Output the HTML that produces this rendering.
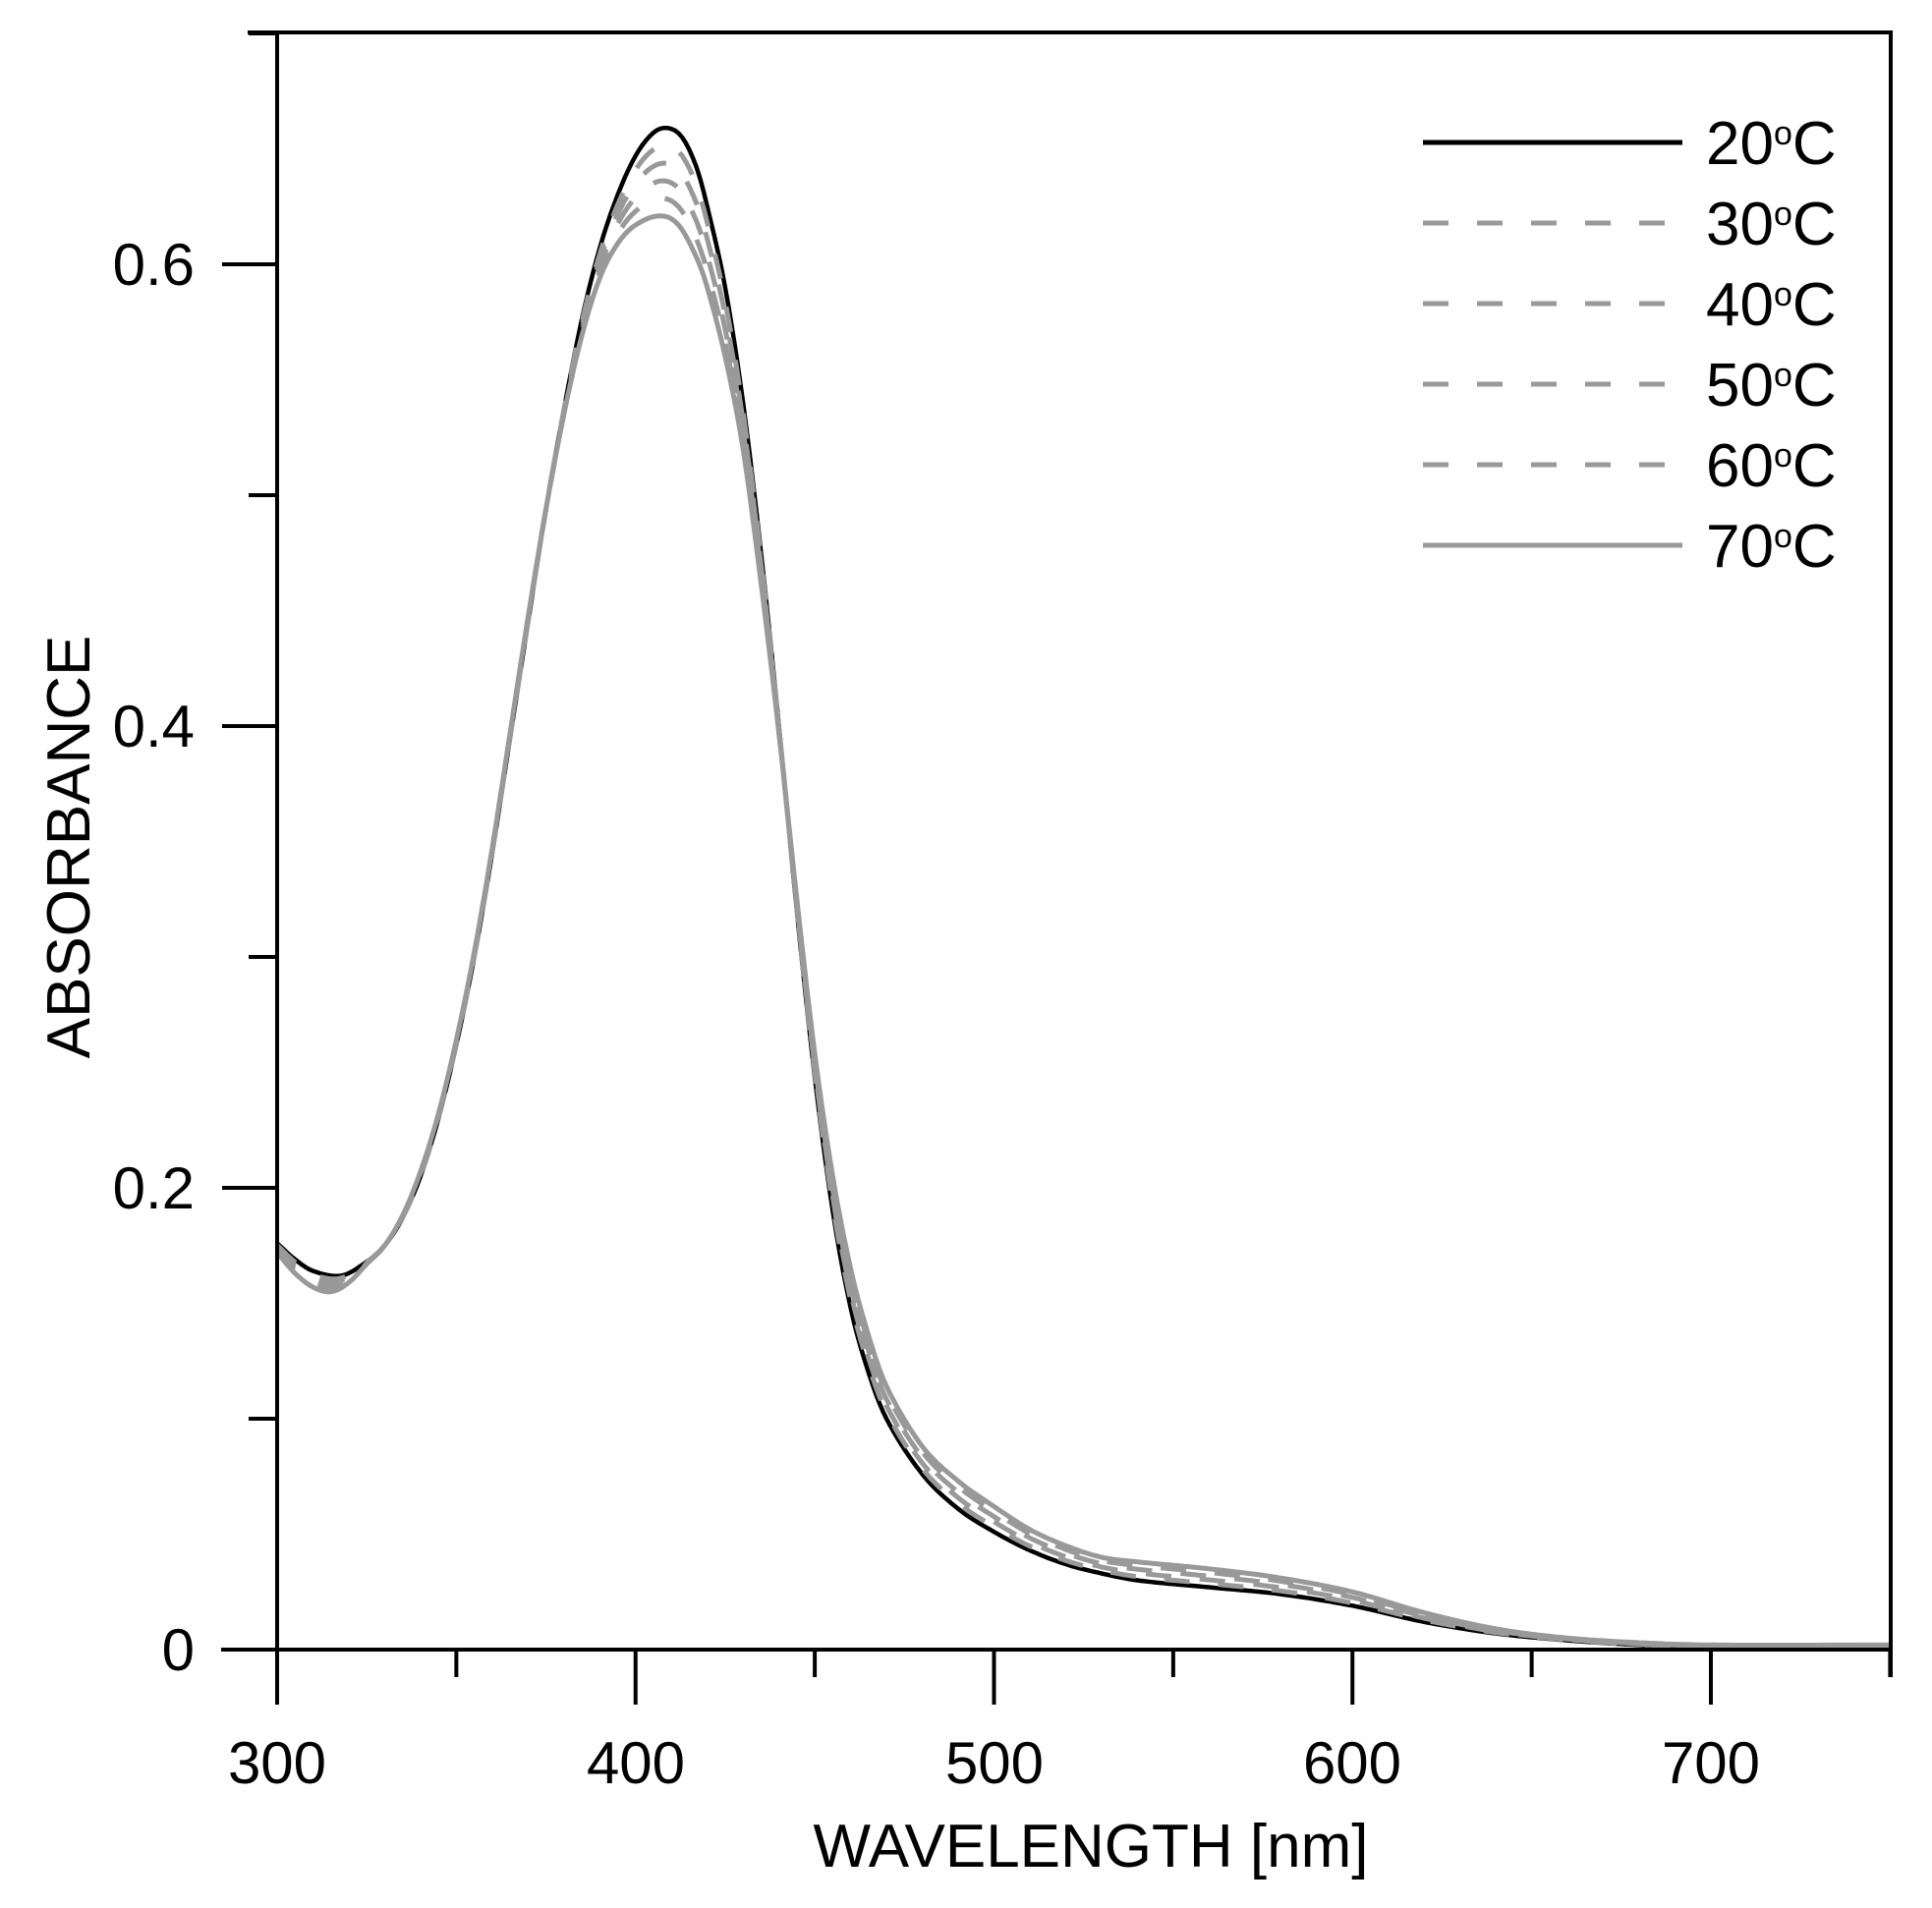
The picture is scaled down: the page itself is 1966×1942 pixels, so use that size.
<!DOCTYPE html>
<html><head><meta charset="utf-8">
<style>
html,body{margin:0;padding:0;background:#fff;}
svg{display:block;}
text{font-family:"Liberation Sans",Arial,sans-serif;fill:#000;}
</style></head>
<body>
<svg id="s" width="1966" height="1942" viewBox="0 0 1966 1942" xmlns="http://www.w3.org/2000/svg">
<rect width="1966" height="1942" fill="#fff"/>
<g id="curves" fill="none" stroke-linejoin="round" stroke-linecap="butt"></g>
<g stroke="#000" stroke-width="4" fill="none">
<line x1="252" y1="33" x2="1924" y2="33"/>
<line x1="282" y1="31" x2="282" y2="1681"/>
<line x1="1924" y1="31" x2="1924" y2="1707"/>
<line x1="225" y1="1679" x2="1926" y2="1679"/>
</g>
<g id="ticks" stroke="#000" stroke-width="4"></g>
<g font-size="60" text-anchor="end">
<text x="198" y="1700">0</text>
<text x="198" y="1230">0.2</text>
<text x="198" y="760">0.4</text>
<text x="198" y="290">0.6</text>
</g>
<g font-size="60" text-anchor="middle">
<text x="282" y="1815">300</text>
<text x="647" y="1815">400</text>
<text x="1012" y="1815">500</text>
<text x="1376" y="1815">600</text>
<text x="1741" y="1815">700</text>
</g>
<text x="1110" y="1900" font-size="62" text-anchor="middle">WAVELENGTH [nm]</text>
<text transform="translate(91,862) rotate(-90)" font-size="62" text-anchor="middle">ABSORBANCE</text>
<g stroke-width="5" fill="none">
<line x1="1448" y1="145" x2="1712" y2="145" stroke="#000"/>
<line x1="1448" y1="227" x2="1712" y2="227" stroke="#999" stroke-dasharray="26 29"/>
<line x1="1448" y1="309" x2="1712" y2="309" stroke="#999" stroke-dasharray="26 29"/>
<line x1="1448" y1="391" x2="1712" y2="391" stroke="#999" stroke-dasharray="26 29"/>
<line x1="1448" y1="473" x2="1712" y2="473" stroke="#999" stroke-dasharray="26 29"/>
<line x1="1448" y1="555" x2="1712" y2="555" stroke="#999"/>
</g>
<g font-size="62">
<text x="1736" y="167">20<tspan font-size="34" dy="-20">o</tspan><tspan dy="20">C</tspan></text>
<text x="1736" y="249">30<tspan font-size="34" dy="-20">o</tspan><tspan dy="20">C</tspan></text>
<text x="1736" y="331">40<tspan font-size="34" dy="-20">o</tspan><tspan dy="20">C</tspan></text>
<text x="1736" y="413">50<tspan font-size="34" dy="-20">o</tspan><tspan dy="20">C</tspan></text>
<text x="1736" y="495">60<tspan font-size="34" dy="-20">o</tspan><tspan dy="20">C</tspan></text>
<text x="1736" y="577">70<tspan font-size="34" dy="-20">o</tspan><tspan dy="20">C</tspan></text>
</g>
</svg>
<script>
(function(){
var NS="http://www.w3.org/2000/svg";
function X(n){return 282+(n-300)*3.6475;}
function Y(a){return 1679-a*2350;}
var tk=document.getElementById('ticks');
function ln(x1,y1,x2,y2){var l=document.createElementNS(NS,'line');l.setAttribute('x1',x1);l.setAttribute('y1',y1);l.setAttribute('x2',x2);l.setAttribute('y2',y2);tk.appendChild(l);}
for(var n=300;n<=750;n+=50){var maj=(n%100===0);ln(X(n),1679,X(n),maj?1735:1707);}
for(var i=0;i<=7;i++){var a=i*0.1;ln(i%2===0?226:253,Y(a),282,Y(a));}
var B=[[300,.176],[305,.169],[310,.164],[318,.162],[325,.168],[330,.175],[335,.187],[340,.205],[345,.23],[350,.262],[355,.30],[360,.345],[365,.395],[370,.445],[375,.494],[380,.537],[385,.576],[390,.607],[395,.630],[400,.647],[405,.657],[409,.659],[413,.655],[417,.642],[420,.625],[425,.59],[430,.54],[435,.475],[440,.40],[445,.32],[450,.248],[455,.19],[460,.148],[465,.12],[470,.100],[480,.076],[490,.061],[500,.051],[510,.043],[520,.037],[530,.033],[540,.030],[560,.027],[580,.024],[600,.019],[620,.012],[640,.007],[660,.004],[680,.002],[700,.001],[750,.001]];
var G=[[300,.172],[305,.163],[310,.157],[315,.155],[320,.159],[325,.167],[330,.175],[335,.188],[340,.207],[345,.232],[350,.264],[355,.302],[360,.347],[365,.397],[370,.447],[375,.494],[380,.535],[385,.569],[390,.594],[395,.609],[400,.617],[407,.621],[412,.617],[417,.603],[420,.59],[425,.56],[430,.52],[435,.462],[440,.397],[445,.325],[450,.258],[455,.205],[460,.165],[465,.136],[470,.114],[480,.088],[490,.073],[500,.062],[510,.052],[520,.045],[530,.040],[540,.038],[560,.035],[580,.031],[600,.025],[620,.016],[640,.009],[660,.005],[680,.003],[700,.002],[750,.002]];
function interp(P,n){for(var i=0;i<P.length-1;i++){if(n>=P[i][0]&&n<=P[i+1][0]){var t=(n-P[i][0])/(P[i+1][0]-P[i][0]);var p0=P[Math.max(i-1,0)],p1=P[i],p2=P[i+1],p3=P[Math.min(i+2,P.length-1)];
var m1=(p2[1]-p0[1])/(p2[0]-p0[0])*(p2[0]-p1[0]);var m2=(p3[1]-p1[1])/(p3[0]-p1[0])*(p2[0]-p1[0]);
var t2=t*t,t3=t2*t;return (2*t3-3*t2+1)*p1[1]+(t3-2*t2+t)*m1+(-2*t3+3*t2)*p2[1]+(t3-t2)*m2;}}return P[P.length-1][1];}
function path(w){var d="";for(var n=300;n<=750;n+=1){var a=(1-w)*interp(B,n)+w*interp(G,n);d+=(n===300?"M":"L")+X(n).toFixed(1)+" "+Y(a).toFixed(1);}return d;}
var g=document.getElementById('curves');
function add(w,col,sw,dash){var p=document.createElementNS(NS,'path');p.setAttribute('d',path(w));p.setAttribute('stroke',col);p.setAttribute('stroke-width',sw);if(dash)p.setAttribute('stroke-dasharray',dash);g.appendChild(p);}
add(0,"#000",4.5);
add(0.2,"#999",5,"26 29");
add(0.4,"#999",5,"26 29");
add(0.6,"#999",5,"26 29");
add(0.8,"#999",5,"26 29");
add(1,"#999",5);
})();
</script>
</body></html>
